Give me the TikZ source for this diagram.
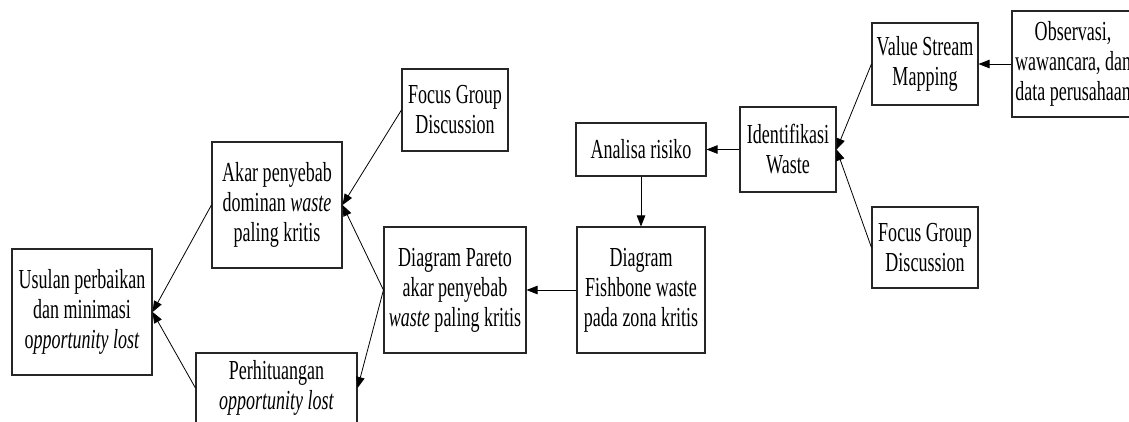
\documentclass[tikz,border=0pt]{standalone}
\usepackage{fontspec}
\setmainfont{Liberation Serif}[FakeStretch=0.655]
\usetikzlibrary{arrows.meta}
\begin{document}
\begin{tikzpicture}[x=1pt,y=-1pt,
  box/.style={draw=black!85,line width=1.1pt,rectangle,inner sep=0pt,align=center,
    font=\fontsize{27.5}{30}\selectfont},
  conn/.style={draw=black,line width=0.8pt,-{Triangle[length=11pt,width=8.5pt]}}]
\useasboundingbox (0,0) rectangle (1129,421);
\clip (0,0) rectangle (1129,421);
\node[box,minimum width=140pt,minimum height=126pt] (usulan) at (82,312) {Usulan perbaikan\\dan minimasi\\o\textit{pportunity lost}};
\node[box,minimum width=130pt,minimum height=126pt] (akar) at (277,205) {Akar penyebab\\dominan \textit{waste}\\paling kritis};
\node[box,minimum width=106pt,minimum height=82pt] (fgda) at (455,110) {Focus Group\\Discussion};
\node[box,minimum width=142pt,minimum height=126pt] (pareto) at (455,290) {Diagram Pareto\\akar penyebab\\\textit{waste} paling kritis};
\node[box,minimum width=161pt,minimum height=70pt] (perhit) at (276.5,388) {Perhituangan\\\textit{opportunity lost}};
\node[box,minimum width=128pt,minimum height=126pt] (fish) at (641,290) {Diagram\\Fishbone waste\\pada zona kritis};
\node[box,minimum width=130pt,minimum height=53pt] (analisa) at (641,149.5) {Analisa risiko};
\node[box,minimum width=96pt,minimum height=85pt] (ident) at (788,149.5) {Identifikasi\\Waste};
\node[box,minimum width=106pt,minimum height=82pt] (vsm) at (925,64) {Value Stream\\Mapping};
\node[box,minimum width=106pt,minimum height=81pt] (fgdb) at (925,247.5) {Focus Group\\Discussion};
\node[box,minimum width=122pt,minimum height=106pt] (obs) at (1073,64) {Observasi,\\wawancara, dan\\data perusahaan};
\draw[conn] (akar.west) -- (usulan.east);
\draw[conn] (perhit.west) -- (usulan.east);
\draw[conn] (fgda.west) -- (akar.east);
\draw[conn] (pareto.west) -- (akar.east);
\draw[conn] (pareto.west) -- (perhit.east);
\draw[conn] (fish.west) -- (pareto.east);
\draw[conn] (analisa.south) -- (fish.north);
\draw[conn] (ident.west) -- (analisa.east);
\draw[conn] (vsm.west) -- (ident.east);
\draw[conn] (fgdb.west) -- (ident.east);
\draw[conn] (obs.west) -- (vsm.east);
\end{tikzpicture}
\end{document}
